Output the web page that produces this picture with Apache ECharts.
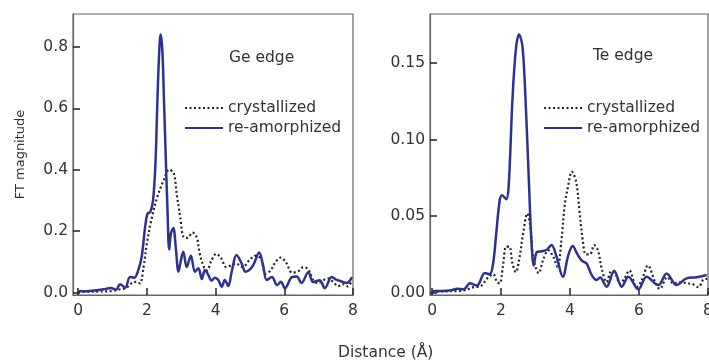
<!DOCTYPE html>
<html>
<head>
<meta charset="utf-8">
<script src="https://cdn.jsdelivr.net/npm/echarts@6/dist/echarts.min.js"></script>
<style>
  html, body { margin: 0; padding: 0; background: #fff; }
  #chart { width: 709px; height: 363px; }
</style>
</head>
<body>
<div id="chart"></div>
<script>
// Ge edge, crystallized (dotted)
const geCrystX = [0, 0.4, 0.8, 1.0, 1.2, 1.4, 1.55, 1.7, 1.8, 1.9, 2.0, 2.15, 2.3, 2.49, 2.65, 2.78, 2.87, 2.97, 3.07, 3.18, 3.33, 3.45, 3.54, 3.66, 3.75, 3.88, 4.02, 4.17, 4.31, 4.45, 4.6, 4.79, 4.98, 5.17, 5.32, 5.46, 5.6, 5.75, 5.89, 6.04, 6.23, 6.42, 6.56, 6.7, 6.84, 6.98, 7.13, 7.28, 7.42, 7.57, 7.72, 7.85, 7.97];
const geCrystY = [0.003, 0.003, 0.004, 0.005, 0.01, 0.015, 0.03, 0.035, 0.03, 0.08, 0.16, 0.246, 0.31, 0.366, 0.40, 0.39, 0.32, 0.246, 0.18, 0.178, 0.195, 0.18, 0.126, 0.083, 0.072, 0.105, 0.126, 0.11, 0.083, 0.088, 0.094, 0.083, 0.105, 0.12, 0.11, 0.061, 0.072, 0.1, 0.114, 0.1, 0.065, 0.07, 0.083, 0.075, 0.041, 0.031, 0.04, 0.046, 0.035, 0.021, 0.027, 0.02, 0.041];

// Ge edge, re-amorphized (solid)
const geAmorX = [0, 0.2, 0.4, 0.6, 0.8, 0.95, 1.1, 1.22, 1.37, 1.51, 1.63, 1.75, 1.85, 1.95, 2.02, 2.1, 2.18, 2.25, 2.3, 2.35, 2.4, 2.45, 2.5, 2.55, 2.6, 2.65, 2.7, 2.77, 2.84, 2.92, 2.99, 3.06, 3.16, 3.28, 3.4, 3.5, 3.6, 3.69, 3.79, 3.88, 3.98, 4.08, 4.18, 4.27, 4.37, 4.47, 4.61, 4.76, 4.87, 5.0, 5.1, 5.27, 5.38, 5.49, 5.64, 5.79, 5.9, 6.02, 6.22, 6.36, 6.5, 6.7, 6.84, 7.03, 7.18, 7.38, 7.53, 7.67, 7.82, 7.97];
const geAmorY = [0.005, 0.004, 0.006, 0.008, 0.012, 0.015, 0.009, 0.027, 0.016, 0.051, 0.048, 0.073, 0.117, 0.214, 0.257, 0.262, 0.30, 0.42, 0.6, 0.76, 0.84, 0.79, 0.62, 0.44, 0.27, 0.14, 0.193, 0.21, 0.149, 0.068, 0.105, 0.133, 0.083, 0.12, 0.068, 0.079, 0.044, 0.073, 0.057, 0.039, 0.048, 0.041, 0.019, 0.041, 0.021, 0.068, 0.122, 0.095, 0.068, 0.075, 0.09, 0.13, 0.09, 0.041, 0.051, 0.024, 0.035, 0.014, 0.05, 0.052, 0.031, 0.066, 0.034, 0.04, 0.014, 0.051, 0.041, 0.036, 0.031, 0.05];

// Te edge, crystallized (dotted)
const teCrystX = [0, 0.4, 0.8, 1.0, 1.2, 1.39, 1.63, 1.77, 1.88, 1.96, 2.05, 2.15, 2.24, 2.33, 2.43, 2.52, 2.64, 2.76, 2.85, 2.92, 3.0, 3.09, 3.23, 3.37, 3.52, 3.64, 3.75, 3.85, 3.94, 4.05, 4.18, 4.27, 4.37, 4.46, 4.58, 4.7, 4.81, 4.93, 5.06, 5.2, 5.32, 5.45, 5.57, 5.72, 5.93, 6.08, 6.26, 6.45, 6.6, 6.82, 7.0, 7.2, 7.38, 7.53, 7.72, 7.86, 7.98];
const teCrystY = [0.0005, 0.0008, 0.001, 0.002, 0.0035, 0.004, 0.01, 0.012, 0.007, 0.006, 0.0166, 0.03, 0.03, 0.019, 0.0133, 0.021, 0.0385, 0.0516, 0.043, 0.025, 0.0166, 0.0127, 0.022, 0.0276, 0.023, 0.0166, 0.034, 0.058, 0.069, 0.079, 0.072, 0.054, 0.034, 0.025, 0.025, 0.031, 0.0276, 0.0144, 0.0068, 0.014, 0.012, 0.0057, 0.009, 0.0144, 0.0035, 0.008, 0.0177, 0.0079, 0.0024, 0.01, 0.006, 0.0068, 0.006, 0.0057, 0.0035, 0.0083, 0.009];

// Te edge, re-amorphized (solid)
const teAmorX = [0, 0.3, 0.55, 0.73, 0.92, 1.1, 1.3, 1.53, 1.67, 1.77, 1.86, 1.96, 2.03, 2.15, 2.22, 2.33, 2.43, 2.52, 2.62, 2.71, 2.81, 2.88, 2.95, 3.04, 3.19, 3.33, 3.46, 3.61, 3.79, 3.95, 4.08, 4.2, 4.34, 4.48, 4.63, 4.77, 4.87, 5.06, 5.28, 5.5, 5.69, 5.98, 6.22, 6.56, 6.8, 7.09, 7.38, 7.67, 7.96];
const teAmorY = [0.001, 0.001, 0.0015, 0.0025, 0.0022, 0.006, 0.0046, 0.0127, 0.012, 0.019, 0.0385, 0.06, 0.0636, 0.061, 0.069, 0.126, 0.159, 0.1686, 0.161, 0.126, 0.071, 0.034, 0.0177, 0.0265, 0.027, 0.028, 0.031, 0.0234, 0.0103, 0.0245, 0.0304, 0.0256, 0.0208, 0.019, 0.0114, 0.0082, 0.0099, 0.0038, 0.0143, 0.0038, 0.0104, 0.0021, 0.0104, 0.0049, 0.0125, 0.0049, 0.0093, 0.01, 0.0115];

const xTicks = [0, 2, 4, 6, 8];
const geYTicks = [0, 0.2, 0.4, 0.6, 0.8];
const teYTicks = [0, 0.05, 0.1, 0.15];

const FONT = 'DejaVu Sans';
const TEXT = '#333';
const BLUE = '#2e3192';
const DOT = '#222';
const FRAME = '#666';

const pairs = (xs, ys) => xs.map((x, i) => [x, ys[i]]);

function xAxisFor(gridIndex, min) {
  return {
    type: 'value',
    gridIndex,
    min,
    max: 8,
    axisLine: { show: true, onZero: false, lineStyle: { color: FRAME, width: 1.2 } },
    axisTick: { show: true, inside: true, length: 7, customValues: xTicks, lineStyle: { color: '#222', width: 1.5 } },
    axisLabel: { customValues: xTicks, color: TEXT, fontFamily: FONT, fontSize: 15.5, margin: 8 },
    splitLine: { show: false },
  };
}

function yAxisFor(gridIndex, min, max, ticks, digits) {
  return {
    type: 'value',
    gridIndex,
    min,
    max,
    axisLine: { show: true, onZero: false, lineStyle: { color: FRAME, width: 1.2 } },
    axisTick: { show: true, inside: true, length: 7, customValues: ticks, lineStyle: { color: '#222', width: 1.5 } },
    axisLabel: {
      customValues: ticks,
      color: TEXT, fontFamily: FONT, fontSize: 15.5, margin: 5,
      formatter: (v) => v.toFixed(digits),
    },
    splitLine: { show: false },
  };
}

function lineSeries(name, data, idx, dotted) {
  return {
    type: 'line',
    name,
    xAxisIndex: idx,
    yAxisIndex: idx,
    data,
    smooth: 0.35,
    symbol: 'none',
    showSymbol: false,
    lineStyle: dotted
      ? { color: DOT, width: 2.2, type: [2, 2.5] }
      : { color: BLUE, width: 2.5 },
    itemStyle: { color: dotted ? DOT : BLUE },
  };
}

const legendText = { color: TEXT, fontFamily: FONT, fontSize: 15.5, lineHeight: 16 };
const titleText = { color: TEXT, fontFamily: FONT, fontSize: 15.5, fontWeight: 'normal' };

function legendAt(left) {
  return {
    data: ['crystallized', 're-amorphized'],
    orient: 'vertical', left, top: 100, padding: 0,
    itemWidth: 38, itemHeight: 16, itemGap: 4,
    itemStyle: { opacity: 0 },
    textStyle: legendText, selectedMode: false,
  };
}

const chart = echarts.init(document.getElementById('chart'), null, { renderer: 'canvas' });
chart.setOption({
  animation: false,
  backgroundColor: '#fff',
  title: [
    { text: 'Ge edge', left: 224, top: 45, textStyle: titleText },
    { text: 'Te edge', left: 588, top: 43, textStyle: titleText },
  ],
  legend: [legendAt(184), legendAt(543)],
  grid: [
    { left: 73, top: 14, right: 356, bottom: 68, show: true, borderColor: FRAME, borderWidth: 1.2, outerBoundsMode: 'none' },
    { left: 430, top: 14, width: 278, bottom: 68, show: true, borderColor: FRAME, borderWidth: 1.2, outerBoundsMode: 'none' },
  ],
  xAxis: [xAxisFor(0, -0.15), xAxisFor(1, -0.06)],
  yAxis: [
    Object.assign(yAxisFor(0, -0.008, 0.907, geYTicks, 1), {
      name: 'FT magnitude', nameLocation: 'middle', nameGap: 46,
      nameTextStyle: { color: TEXT, fontFamily: FONT, fontSize: 13 },
    }),
    yAxisFor(1, -0.0016, 0.182, teYTicks, 2),
  ],
  graphic: [
    {
      type: 'text', left: 338, top: 345,
      style: { text: 'Distance (Å)', fill: TEXT, font: '15.5px "DejaVu Sans"' },
    },
  ],
  series: [
    lineSeries('crystallized', pairs(geCrystX, geCrystY), 0, true),
    lineSeries('re-amorphized', pairs(geAmorX, geAmorY), 0, false),
    lineSeries('crystallized', pairs(teCrystX, teCrystY), 1, true),
    lineSeries('re-amorphized', pairs(teAmorX, teAmorY), 1, false),
  ],
});
</script>
</body>
</html>
